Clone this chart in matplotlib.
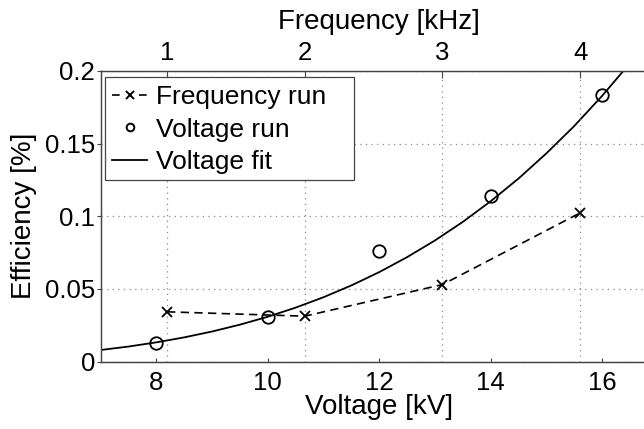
import matplotlib
matplotlib.use("Agg")
import matplotlib.pyplot as plt
from matplotlib.lines import Line2D
from matplotlib.patches import Rectangle

plt.rcParams['font.family'] = ['Liberation Sans', 'DejaVu Sans']

# Frequency run (top axis, kHz)
freq_khz = [1, 2, 3, 4]
freq_eff = [0.0343, 0.0313, 0.0530, 0.1023]

# Voltage run (bottom axis, kV)
volt_kv = [8, 10, 12, 14, 16]
volt_eff = [0.0127, 0.0308, 0.0760, 0.1140, 0.1837]

# Voltage fit curve
fit_kv = [7.0, 7.5, 8.0, 8.5, 9.0, 9.5, 10.0, 10.5, 11.0, 11.5, 12.0,
          12.5, 13.0, 13.5, 14.0, 14.5, 15.0, 15.5, 16.0, 16.5]
fit_eff = [0.00803, 0.01042, 0.0133, 0.01673, 0.02076, 0.02547, 0.03091,
           0.03718, 0.04432, 0.05244, 0.06159, 0.07187, 0.08335, 0.09612,
           0.1103, 0.1259, 0.1432, 0.1620, 0.1827, 0.2052]

x_ticks = [8, 10, 12, 14, 16]
y_ticks = [0, 0.05, 0.1, 0.15, 0.2]
y_ticklabels = ['0', '0.05', '0.1', '0.15', '0.2']
f_ticks = [1, 2, 3, 4]
legend_labels = ['Frequency run', 'Voltage run', 'Voltage fit']

# kV <-> kHz mapping of the two axes
kv_per_khz = 2.472
kv_at_zero_khz = 5.718
xlim_kv = (7, 17)

fig = plt.figure(figsize=(6.44, 4.29), dpi=100)
ax = fig.add_axes([0.1564, 0.1569, 0.8649, 0.678])
ax2 = ax.twiny()

spine_col = '#444444'
grid_col = '#8a8a8a'
grid_ls = (0, (1, 3.5))

l_fit, = ax.plot(fit_kv, fit_eff, '-', color='black', lw=1.3, zorder=3)
l_volt, = ax.plot(volt_kv, volt_eff, 'o', mfc='none', mec='black', ms=9,
                  mew=1.3, zorder=4)
l_freq, = ax2.plot(freq_khz, freq_eff, '--x', color='black', lw=1.2, ms=7,
                   mew=1.3, dashes=(5, 3.2), zorder=4)

ax.set_xlim(*xlim_kv)
ax.set_ylim(0, 0.2)
ax2.set_xlim((xlim_kv[0] - kv_at_zero_khz) / kv_per_khz,
             (xlim_kv[1] - kv_at_zero_khz) / kv_per_khz)

ax.set_xticks(x_ticks)
ax.set_yticks(y_ticks)
ax.set_yticklabels(y_ticklabels)
ax2.set_xticks(f_ticks)

ax.tick_params(axis='x', which='major', direction='in', length=3, width=0.8,
               labelsize=18.5, colors=spine_col, labelcolor='black', pad=7)
ax.tick_params(axis='y', which='major', direction='out', length=3, width=0.8,
               labelsize=18.5, colors=spine_col, labelcolor='black', pad=1)
ax2.tick_params(axis='x', which='major', direction='in', length=5, width=0.8,
                labelsize=18.5, colors=spine_col, labelcolor='black', pad=4)

ax.yaxis.grid(True, linestyle=grid_ls, color=grid_col, lw=0.9)
ax2.xaxis.grid(True, linestyle=grid_ls, color=grid_col, lw=0.9)
ax.set_axisbelow(True)
ax2.set_axisbelow(True)

for a in (ax, ax2):
    for s in a.spines.values():
        s.set_color(spine_col)
        s.set_linewidth(0.9)
    a.spines['right'].set_visible(False)

ax.set_xlabel('Voltage [kV]', fontsize=20, labelpad=-1)
ax.set_ylabel('Efficiency [%]', fontsize=20, labelpad=6)
ax2.set_xlabel('Frequency [kHz]', fontsize=20, labelpad=9)

# legend frame (MATLAB-style, with wide right padding)
frame = Rectangle((0.0077, 0.624), 0.4471, 0.354, transform=ax2.transAxes,
                  facecolor='white', edgecolor=spine_col, lw=0.9, zorder=5)
ax2.add_patch(frame)

h_freq = Line2D([], [], color='black', ls='--', marker='x', ms=5.5, mew=1.4,
                lw=1.2, dashes=(4.6, 11.6))
h_volt = Line2D([], [], color='none', marker='o', mfc='none', mec='black',
                ms=5.5, mew=1.4)
h_fit = Line2D([], [], color='black', lw=1.3)
leg = ax2.legend([h_freq, h_volt, h_fit], legend_labels,
                 loc='upper left', bbox_to_anchor=(0.0023, 0.985),
                 borderaxespad=0, fontsize=19, frameon=False,
                 handlelength=1.33, handletextpad=0.33, borderpad=0.38,
                 labelspacing=0.32)
leg.set_zorder(6)

fig.savefig('out.png', dpi=100)
